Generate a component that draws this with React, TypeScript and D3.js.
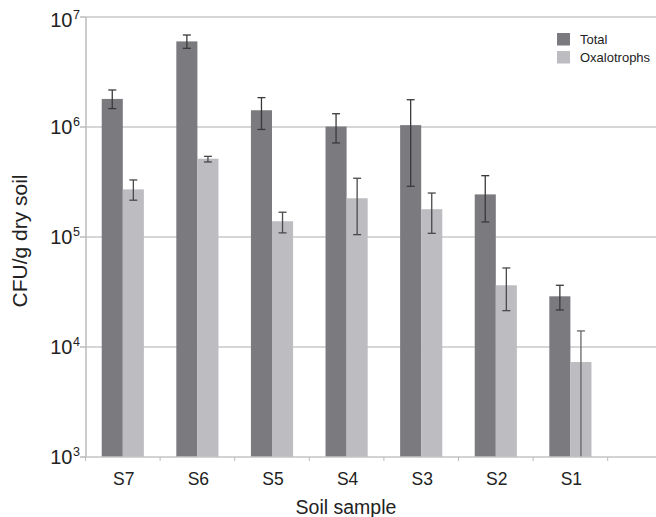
import React from "react";
import * as d3 from "d3";

const categories = ["S7", "S6", "S5", "S4", "S3", "S2", "S1"];
const seriesNames = ["Total", "Oxalotrophs"];
const totalValues = [1.8e6, 6.0e6, 1.42e6, 1.01e6, 1.04e6, 2.44e5, 2.89e4];
const totalLow = [1.47e6, 5.19e6, 9.5e5, 7.16e5, 2.89e5, 1.37e5, 2.17e4];
const totalHigh = [2.17e6, 6.86e6, 1.85e6, 1.32e6, 1.77e6, 3.61e5, 3.64e4];
const oxalValues = [2.71e5, 5.15e5, 1.39e5, 2.25e5, 1.79e5, 3.64e4, 7.3e3];
const oxalLow = [2.16e5, 4.81e5, 1.09e5, 1.05e5, 1.08e5, 2.14e4, 500];
const oxalHigh = [3.3e5, 5.41e5, 1.68e5, 3.42e5, 2.51e5, 5.23e4, 1.4e4];
const yTickExps = [3, 4, 5, 6, 7];

const W = 656;
const H = 517;
const FONT = "'Liberation Sans', Arial, sans-serif";

export default function App() {
  const x0 = 85.5;
  const bandStep = 74.6;
  const x = d3
    .scaleBand<string>()
    .domain(categories)
    .range([x0, x0 + bandStep * categories.length])
    .paddingInner(0.435)
    .paddingOuter(0.2175);
  const y = d3.scaleLog().domain([1e3, 1e7]).range([457, 17]);
  const barW = x.bandwidth() / 2;
  const colors = ["#7b7b7f", "#bdbdc1"];
  const series = [
    { v: totalValues, lo: totalLow, hi: totalHigh, err: "#3a3a3a" },
    { v: oxalValues, lo: oxalLow, hi: oxalHigh, err: "#4a4a4a" },
  ];
  const yMin = y.range()[0];

  return (
    <svg width={W} height={H} style={{ display: "block", position: "absolute", left: 0, top: 0 }} fontFamily={FONT}>
      <rect width={W} height={H} fill="#fff" />
      {yTickExps.map((e) => {
        const yy = y(Math.pow(10, e));
        const base = e === 7 ? yy + 9.5 : yy + 7;
        return (
          <g key={e}>
            {e > 3 && <line x1={86} x2={W} y1={yy} y2={yy} stroke="#c9c9c9" strokeWidth={1.5} />}
            <line x1={80} x2={86} y1={yy} y2={yy} stroke="#bbb" strokeWidth={1.5} />
            <text x={72.5} y={base} fontSize={20} textAnchor="end" fill="#222">10</text>
            <text x={73} y={base - 8} fontSize={12.5} fill="#222">{e}</text>
          </g>
        );
      })}
      {categories.map((c, i) =>
        series.map((s, j) => {
          const bx = (x(c) as number) + j * barW;
          const top = y(s.v[i]);
          return (
            <rect key={c + j} x={bx} y={top} width={barW} height={yMin - top} fill={colors[j]} />
          );
        })
      )}
      {categories.map((c, i) =>
        series.map((s, j) => {
          const cx = (x(c) as number) + j * barW + barW / 2;
          const yh = y(s.hi[i]);
          const loClamped = s.lo[i] < 1e3;
          const yl = loClamped ? yMin : y(s.lo[i]);
          return (
            <g key={"e" + c + j} stroke={loClamped ? "#666" : s.err} strokeWidth={1.3}>
              <line x1={cx} x2={cx} y1={yh} y2={yl} />
              <line x1={cx - 4} x2={cx + 4} y1={yh} y2={yh} />
              {!loClamped && <line x1={cx - 4} x2={cx + 4} y1={yl} y2={yl} />}
            </g>
          );
        })
      )}
      <line x1={86} x2={86} y1={17} y2={457} stroke="#bbb" strokeWidth={1.5} />
      <line x1={82} x2={W} y1={457} y2={457} stroke="#c4c4c4" strokeWidth={1.5} />
      {d3.range(categories.length + 1).map((k) => {
        const xx = x0 + k * bandStep;
        return <line key={"t" + k} x1={xx} x2={xx} y1={457} y2={461} stroke="#bbb" strokeWidth={1} />;
      })}
      {categories.map((c) => (
        <text key={"l" + c} x={(x(c) as number) + x.bandwidth() / 2 + 1} y={485} fontSize={17.5} textAnchor="middle" fill="#222">
          {c}
        </text>
      ))}
      <text x={346} y={514} fontSize={19.5} textAnchor="middle" fill="#222">Soil sample</text>
      <text transform="translate(26.5,241) rotate(-90)" fontSize={21} textAnchor="middle" fill="#222">
        CFU/g dry soil
      </text>
      {seriesNames.map((n, j) => (
        <g key={n}>
          <rect x={557} y={33 + j * 18} width={13} height={12.5} fill={colors[j]} />
          <text x={580} y={44 + j * 18} fontSize={13} fill="#222">{n}</text>
        </g>
      ))}
    </svg>
  );
}
